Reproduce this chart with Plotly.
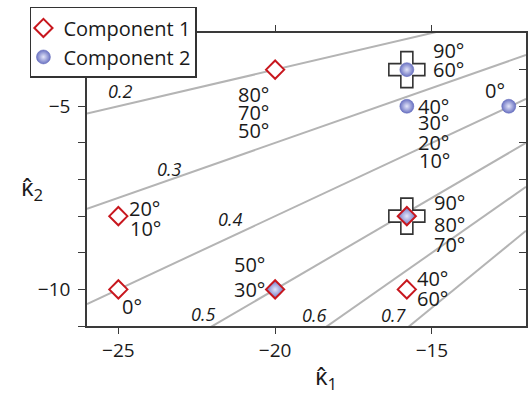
import plotly.graph_objects as go

# ---------------- data ----------------
comp1_x = [-20, -25, -25, -20, -15.8, -15.8]
comp1_y = [-4, -8, -10, -10, -8, -10]
comp2_x = [-15.8, -15.8, -12.55, -20, -15.8]
comp2_y = [-4, -5, -5, -10, -8]
cross_x = [-15.8, -15.8]
cross_y = [-4, -8]

ratio_values = [0.2, 0.3, 0.4, 0.5, 0.6, 0.7]
ratio_label_x = [-24.95, -23.37, -21.43, -22.30, -18.75, -16.22]
ratio_label_y = [-4.59, -6.70, -8.08, -10.66, -10.70, -10.70]

# angle labels: (point x, point y, text)
angle_pts = [
    (-20, -4, "80°"), (-20, -4, "70°"), (-20, -4, "50°"),
    (-15.8, -4, "90°"), (-15.8, -4, "60°"),
    (-12.55, -5, "0°"),
    (-15.8, -5, "40°"), (-15.8, -5, "30°"), (-15.8, -5, "20°"), (-15.8, -5, "10°"),
    (-25, -8, "20°"), (-25, -8, "10°"),
    (-25, -10, "0°"),
    (-20, -10, "50°"), (-20, -10, "30°"),
    (-15.8, -8, "90°"), (-15.8, -8, "80°"), (-15.8, -8, "70°"),
    (-15.8, -10, "40°"), (-15.8, -10, "60°"),
]
# pixel offsets (xshift, yshift, xanchor) for each angle label
angle_offsets = [
    (-39, -25, "left"), (-39, -43, "left"), (-39, -61, "left"),
    (24, 19, "left"), (24, 0, "left"),
    (-14, 16, "center"),
    (9, 0, "left"), (9, -16.5, "left"), (9, -36, "left"), (10, -54.5, "left"),
    (9, 8, "left"), (10, -12, "left"),
    (2, -17, "left"),
    (-8, 25, "right"), (-8, 0, "right"),
    (25, 14, "left"), (25, -8, "left"), (25, -28, "left"),
    (8, 11, "left"), (8, -9, "left"),
]

x_range = [-26, -12]
y_range = [-11, -3]
x_ticks = [-25, -20, -15]
y_ticks = [-10, -5]
x_ticktext = ["\u2212" + str(-v) for v in x_ticks]
y_ticktext = ["\u2212" + str(-v) for v in y_ticks]

FONT = "Open Sans"
RED = "#c8171e"
BLUE = "#6a72c2"
BLUE_C = "#e4e6fa"
TXT = "#1a1a1a"

fig = go.Figure()

# contour lines of constant ratio
for r in ratio_values:
    fig.add_trace(go.Scatter(
        x=x_range, y=[r * x_range[0], r * x_range[1]], mode="lines",
        line=dict(color="#b4b4b4", width=2), showlegend=False, hoverinfo="skip"))

# cross markers
fig.add_trace(go.Scatter(
    x=cross_x, y=cross_y, mode="markers", showlegend=False, hoverinfo="skip",
    marker=dict(symbol="cross", size=30, color="white",
                line=dict(color="#333333", width=1.6))))

# component 2
fig.add_trace(go.Scatter(
    x=comp2_x, y=comp2_y, mode="markers", name="Component 2", legendrank=2,
    marker=dict(symbol="circle", size=14, color=BLUE,
                gradient=dict(type="radial", color=BLUE_C),
                line=dict(color="#5f67b8", width=0.5))))

# component 1 (filled with blue gradient where both components coincide)
shared = [any(abs(a - c) < 1e-9 and abs(b - d) < 1e-9 for c, d in zip(comp2_x, comp2_y))
          for a, b in zip(comp1_x, comp1_y)]
fig.add_trace(go.Scatter(
    x=comp1_x, y=comp1_y, mode="markers", name="Component 1", legendrank=1,
    marker=dict(symbol="diamond", size=14,
                color=[BLUE if s else "white" for s in shared],
                gradient=dict(type=["radial" if s else "none" for s in shared],
                              color=[BLUE_C if s else "white" for s in shared]),
                line=dict(color=RED, width=2))))

# dummy trace for right axis
fig.add_trace(go.Scatter(x=[None], y=[None], yaxis="y2", showlegend=False, hoverinfo="skip"))

annotations = []
for v, lx, ly in zip(ratio_values, ratio_label_x, ratio_label_y):
    annotations.append(dict(x=lx, y=ly, xref="x", yref="y", text="<i>%.1f</i>" % v,
                            showarrow=False, font=dict(family=FONT, size=18, color=TXT),
                            xanchor="center", yanchor="middle"))
for (px, py, t), (dx, dy, anc) in zip(angle_pts, angle_offsets):
    annotations.append(dict(x=px, y=py, xref="x", yref="y", text=t, showarrow=False,
                            xshift=dx, yshift=dy, xanchor=anc, yanchor="middle",
                            font=dict(family=FONT, size=20, color=TXT)))
annotations.append(dict(x=0.545, y=-0.175, xref="paper", yref="paper",
                        text="\u03ba\u0302<sub>1</sub>", showarrow=False,
                        xanchor="center", yanchor="middle",
                        font=dict(family=FONT, size=24, color=TXT)))
annotations.append(dict(x=-0.125, y=0.47, xref="paper", yref="paper",
                        text="\u03ba\u0302<sub>2</sub>", showarrow=False,
                        xanchor="center", yanchor="middle",
                        font=dict(family=FONT, size=24, color=TXT)))

axis_line = dict(showline=True, linecolor="#3a3a3a", linewidth=1.6, showgrid=False,
                 zeroline=False, tickcolor="#3a3a3a", tickwidth=1.4, automargin=False,
                 tickfont=dict(family=FONT, size=19, color=TXT))

fig.update_layout(
    width=532, height=399,
    margin=dict(l=87, r=6, t=33, b=73, autoexpand=False),
    paper_bgcolor="white", plot_bgcolor="white",
    xaxis=dict(range=x_range, tickvals=x_ticks, ticktext=x_ticktext, ticks="outside",
               ticklen=6, mirror="ticks", **axis_line),
    yaxis=dict(range=y_range, tickvals=y_ticks, ticktext=y_ticktext, ticks="outside",
               ticklen=7, mirror=True, ticklabelstandoff=4,
               minor=dict(dtick=1, tick0=-11, ticks="outside", ticklen=7,
                          tickcolor="#3a3a3a", tickwidth=1.4), **axis_line),
    yaxis2=dict(range=y_range, tickvals=y_ticks, overlaying="y", side="right",
                ticks="inside", ticklen=7, showticklabels=False,
                minor=dict(dtick=1, tick0=-11, ticks="inside", ticklen=7,
                           tickcolor="#3a3a3a", tickwidth=1.4), **axis_line),
    legend=dict(x=-0.13, y=1.089, xanchor="left", yanchor="top",
                bgcolor="white", bordercolor="#333333", borderwidth=1.5,
                font=dict(family=FONT, size=20, color=TXT),
                itemwidth=30, tracegroupgap=0, indentation=-8),
    annotations=annotations,
    showlegend=True,
)

fig.write_html("out.html", config={"displayModeBar": False},
               post_script="document.body.style.margin='0';")
